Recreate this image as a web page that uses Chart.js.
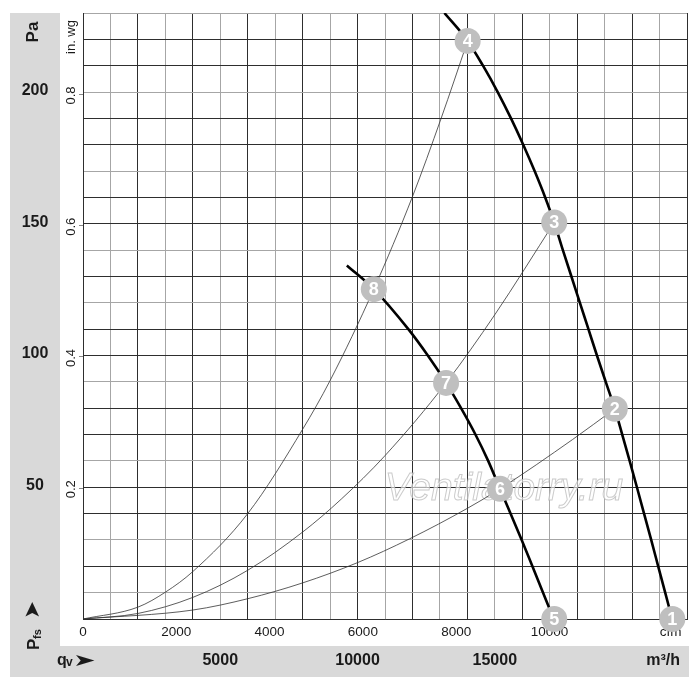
<!DOCTYPE html>
<html>
<head>
<meta charset="utf-8">
<script src="https://cdn.jsdelivr.net/npm/chart.js@4.4.1/dist/chart.umd.min.js"></script>
<style>
  html, body { margin: 0; padding: 0; background: #fff; }
  canvas { display: block; }
</style>
</head>
<body>
<canvas id="fanChart" width="700" height="694"></canvas>
<script>
// air flow qv in m³/h, static pressure pfs in Pa
const fanHighQ = [13164, 14011, 14570, 15105, 15590, 16035, 16450, 16835, 17164, 17479, 17790, 18100, 18410, 18720, 19040, 19371, 19641, 19911, 20176, 20436, 20696, 20951, 21206, 21460];
const fanHighP = [230, 219.4, 210, 200, 190, 180, 170, 160, 150.5, 140, 130, 120, 110, 100, 90, 79.8, 70, 60, 50, 40, 30, 20, 10, 0];

const fanLowQ = [9611, 10593, 11850, 12560, 13225, 13760, 14280, 14750, 15189, 15975, 16270, 16930, 17150];
const fanLowP = [134.2, 125.2, 110, 100, 89.6, 80.2, 70.3, 60.2, 49.4, 30.1, 22.6, 5.5, 0];

// system curves
const sys1Q = [0, 2000, 3018, 4000, 6000, 8000, 9000, 10593, 12000, 13044, 14011];
const sys1P = [0, 4.5, 10.3, 18, 40, 72, 90.5, 125.2, 160.3, 190, 219.4];
const sys2Q = [0, 2000, 4000, 6000, 8000, 9407, 11000, 13225, 15000, 17164];
const sys2P = [0, 2.1, 8.2, 18.5, 33, 45.5, 62, 89.6, 115.5, 150.5];
const sys3Q = [0, 4000, 6000, 8000, 10000, 11891, 14000, 15189, 17830, 19371];
const sys3P = [0, 3.4, 7.7, 13.7, 21.4, 30.4, 42, 49.4, 68.1, 79.8];

// operating points
const markerQ = [21465, 19371, 17164, 14011, 17164, 15189, 13225, 10593];
const markerP = [0, 79.8, 150.5, 219.4, 0, 49.4, 89.6, 125.2];
const markerLabels = ['1', '2', '3', '4', '5', '6', '7', '8'];

// axis labels
const paTicks = [50, 100, 150, 200];
const inwgTicks = [0.2, 0.4, 0.6, 0.8];
const cfmTicks = [0, 2000, 4000, 6000, 8000, 10000];
const m3hTicks = [5000, 10000, 15000];

const PA_PER_INWG = 249.09;
const M3H_PER_CFM = 1.699;
const CFM_UNIT_AT = 12600;

const greyPa = [10, 30, 60, 90, 120, 140, 170, 200, 230];
const FONT = '"Liberation Sans", Arial, sans-serif';
const INK = '#1a1a1a';

const pts = (qs, ps) => qs.map((q, i) => ({ x: q, y: ps[i] }));

function rotText(c, text, x, y, font) {
    c.save();
    c.translate(x, y);
    c.rotate(-Math.PI / 2);
    c.font = font;
    c.textAlign = 'center';
    c.textBaseline = 'middle';
    c.fillText(text, 0, 0);
    c.restore();
}

const decor = {
    id: 'decor',
    beforeDraw(chart) {
        const c = chart.ctx;
        c.save();
        c.fillStyle = '#fff';
        c.fillRect(0, 0, chart.width, chart.height);
        c.fillStyle = '#d9d9d9';
        c.fillRect(10, 13, 50, 664);
        c.fillRect(10, 646, 679, 31);
        c.restore();
    },
    beforeDatasetsDraw(chart) {
        const c = chart.ctx;
        const x = chart.scales.x;
        // watermark
        c.save();
        c.font = 'italic 39px ' + FONT;
        c.textAlign = 'center';
        c.textBaseline = 'alphabetic';
        c.fillStyle = 'rgba(255,255,255,0.6)';
        c.strokeStyle = 'rgba(185,185,185,0.75)';
        c.lineWidth = 1;
        c.fillText('Ventilatorry.ru', 504, 500);
        c.strokeText('Ventilatorry.ru', 504, 500);
        c.restore();
        // cfm labels
        c.save();
        c.fillStyle = INK;
        c.font = '13.5px ' + FONT;
        c.textAlign = 'center';
        c.textBaseline = 'middle';
        cfmTicks.forEach(v => c.fillText(String(v), x.getPixelForValue(v * M3H_PER_CFM), 632));
        c.fillText('cfm', x.getPixelForValue(CFM_UNIT_AT * M3H_PER_CFM), 632);
        c.restore();
    },
    afterDatasetsDraw(chart) {
        const c = chart.ctx;
        const meta = chart.getDatasetMeta(0);
        c.save();
        c.fillStyle = '#fff';
        c.font = 'bold 18px ' + FONT;
        c.textAlign = 'center';
        c.textBaseline = 'middle';
        meta.data.forEach((el, i) => c.fillText(markerLabels[i], el.x, el.y + 1));
        c.restore();
    },
    afterDraw(chart) {
        const c = chart.ctx;
        const x = chart.scales.x;
        const y = chart.scales.y;
        c.save();
        c.fillStyle = INK;
        // Pa column
        rotText(c, 'Pa', 33, 32, 'bold 17px ' + FONT);
        c.font = 'bold 16px ' + FONT;
        c.textAlign = 'center';
        c.textBaseline = 'middle';
        paTicks.forEach(v => c.fillText(String(v), 35, y.getPixelForValue(v) - 1.5));
        // Pfs arrow label
        c.save();
        c.translate(33, 650);
        c.rotate(-Math.PI / 2);
        c.textBaseline = 'alphabetic';
        c.textAlign = 'left';
        c.font = 'bold 17px ' + FONT;
        c.fillText('P', 0, 6);
        c.font = 'bold 11px ' + FONT;
        c.fillText('fs', 11, 8);
        c.textBaseline = 'middle';
        c.translate(31, 0);
        c.scale(1.35, 1.35);
        c.font = 'bold 16px DejaVu Sans, sans-serif';
        c.fillText('➤', 0, 0);
        c.restore();
        // in. wg column
        c.fillStyle = INK;
        rotText(c, 'in. wg', 71, 37, '13px ' + FONT);
        c.strokeStyle = '#888';
        c.lineWidth = 1;
        inwgTicks.forEach(v => {
            const py = y.getPixelForValue(v * PA_PER_INWG);
            rotText(c, v.toFixed(1), 71, py + 1.5, '13px ' + FONT);
            c.beginPath();
            c.moveTo(79, Math.round(py) + 0.5);
            c.lineTo(83, Math.round(py) + 0.5);
            c.stroke();
        });
        // bottom band
        c.font = 'bold 16px ' + FONT;
        c.textAlign = 'center';
        c.textBaseline = 'middle';
        m3hTicks.forEach(v => c.fillText(String(v), x.getPixelForValue(v), 661));
        c.textAlign = 'right';
        c.fillText('m³/h', 680, 661);
        c.textAlign = 'left';
        c.font = 'bold 16px ' + FONT;
        c.fillText('q', 57, 661);
        c.font = 'bold 12px ' + FONT;
        c.fillText('v', 66, 663);
        c.save();
        c.translate(73, 661);
        c.scale(1.7, 1.1);
        c.font = 'bold 16px DejaVu Sans, sans-serif';
        c.fillText('➤', 0, 0);
        c.restore();
        c.restore();
    }
};

const ctx = document.getElementById('fanChart').getContext('2d');
const fanChart = new Chart(ctx, {
    type: 'line',
    data: {
        datasets: [
            {
                label: 'points',
                data: pts(markerQ, markerP),
                showLine: false,
                pointRadius: 13,
                pointBackgroundColor: '#bfbfbf',
                pointBorderWidth: 0,
                clip: false
            },
            {
                label: 'fan high',
                data: pts(fanHighQ, fanHighP),
                borderColor: '#000',
                borderWidth: 2.6,
                pointRadius: 0,
                cubicInterpolationMode: 'monotone'
            },
            {
                label: 'fan low',
                data: pts(fanLowQ, fanLowP),
                borderColor: '#000',
                borderWidth: 2.6,
                pointRadius: 0,
                cubicInterpolationMode: 'monotone'
            },
            {
                label: 'system 1',
                data: pts(sys1Q, sys1P),
                borderColor: '#333',
                borderWidth: 0.8,
                pointRadius: 0,
                cubicInterpolationMode: 'monotone'
            },
            {
                label: 'system 2',
                data: pts(sys2Q, sys2P),
                borderColor: '#333',
                borderWidth: 0.8,
                pointRadius: 0,
                cubicInterpolationMode: 'monotone'
            },
            {
                label: 'system 3',
                data: pts(sys3Q, sys3P),
                borderColor: '#333',
                borderWidth: 0.8,
                pointRadius: 0,
                cubicInterpolationMode: 'monotone'
            }
        ]
    },
    options: {
        responsive: false,
        devicePixelRatio: 1,
        animation: false,
        events: [],
        layout: { padding: { top: 13, right: 12, left: 0, bottom: 0 } },
        plugins: { legend: { display: false }, tooltip: { enabled: false } },
        scales: {
            x: {
                type: 'linear',
                min: 0,
                max: 22000,
                ticks: { display: false, stepSize: 1000 },
                grid: {
                    drawTicks: false,
                    color: c => (c.tick.value % 2000 === 0 ? '#2e2e2e' : '#a6a6a6')
                },
                border: { color: '#2e2e2e' },
                afterFit: s => { s.height = 75; }
            },
            y: {
                type: 'linear',
                min: 0,
                max: 230,
                ticks: { display: false, stepSize: 10 },
                grid: {
                    drawTicks: false,
                    color: c => (greyPa.includes(c.tick.value) ? '#a6a6a6' : '#2e2e2e')
                },
                border: { color: '#2e2e2e' },
                afterFit: s => { s.width = 83; }
            }
        }
    },
    plugins: [decor]
});
</script>
</body>
</html>
